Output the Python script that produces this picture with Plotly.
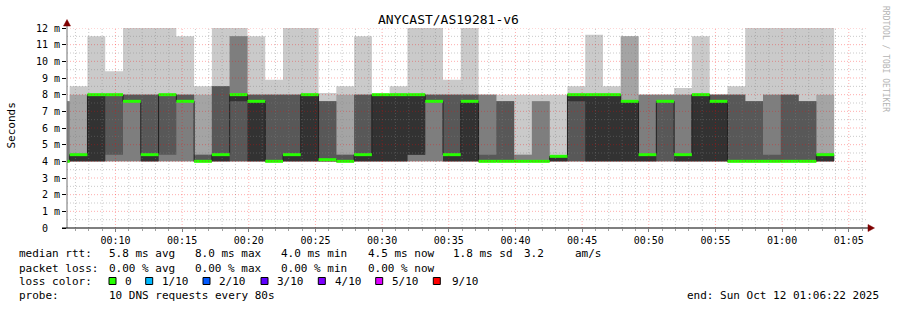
import pandas as pd
import plotly.graph_objects as go

# ---------------- data ----------------
chart_title = "ANYCAST/AS19281-v6"
step_seconds = 80
first_step_start = "2025-10-12 00:05:14"   # start of the (clipped) first step
view_start = "2025-10-12 00:06:22"
view_end = "2025-10-12 01:06:22"

# sorted DNS response times (ms) per 80 s step: ping1 = fastest ... ping10 = slowest
ping1 = [4.0, 4.0, 4.0, 4.0, 4.0, 4.0, 4.0, 4.0, 4.0, 4.0, 4.0,
         4.0, 4.0, 4.0, 4.0, 4.0, 4.0, 4.0, 4.0, 4.0, 4.0, 4.0,
         4.0, 4.0, 4.0, 4.0, 4.0, 4.0, 4.0, 4.0, 4.0, 4.0, 4.0,
         4.0, 4.0, 4.0, 4.0, 4.0, 4.0, 4.0, 4.0, 4.0, 4.0, 4.0]
ping2 = [4.0, 4.0, 4.0, 4.0, 4.0, 4.0, 4.0, 4.0, 4.0, 4.0, 4.0,
         4.0, 4.0, 4.0, 4.0, 4.0, 4.0, 4.0, 4.0, 4.0, 4.0, 4.0,
         4.0, 4.0, 4.0, 4.0, 4.0, 4.0, 4.0, 4.0, 4.0, 4.0, 4.0,
         4.0, 4.0, 4.0, 4.0, 4.0, 4.0, 4.0, 4.0, 4.0, 4.0, 4.0]
ping3 = [4.0, 4.0, 4.0, 4.0, 4.0, 4.0, 4.0, 4.0, 4.0, 4.0, 4.0,
         4.0, 4.0, 4.0, 4.0, 4.0, 4.0, 4.0, 4.0, 4.0, 4.0, 4.0,
         4.0, 4.0, 4.0, 4.0, 4.0, 4.0, 4.0, 4.0, 4.0, 4.0, 4.0,
         4.0, 4.0, 4.0, 4.0, 4.0, 4.0, 4.0, 4.0, 4.0, 4.0, 4.0]
ping4 = [4.0, 4.0, 4.0, 4.4, 7.6, 4.0, 4.4, 7.6, 4.0, 4.0, 4.0,
         4.0, 4.0, 4.0, 4.0, 4.0, 4.0, 4.0, 4.0, 4.0, 4.4, 7.6,
         4.0, 4.0, 4.0, 4.0, 4.0, 4.0, 4.0, 4.0, 4.0, 4.0, 4.0,
         4.0, 4.0, 4.0, 4.0, 4.0, 4.0, 4.0, 4.0, 4.0, 4.0, 4.0]
ping5 = [4.0, 4.0, 4.0, 8.0, 7.6, 4.0, 8.0, 7.6, 4.0, 4.0, 7.6,
         4.0, 4.0, 4.0, 4.0, 4.0, 4.0, 4.0, 4.0, 4.0, 4.4, 7.6,
         4.0, 4.0, 4.0, 4.0, 4.0, 4.0, 4.0, 7.6, 4.0, 4.0, 4.0,
         4.0, 7.6, 4.0, 4.0, 4.0, 4.0, 4.0, 4.0, 4.0, 4.0, 4.0]
ping6 = [4.0, 4.4, 8.0, 8.0, 7.6, 4.4, 8.0, 7.6, 4.0, 4.4, 8.0,
         7.6, 4.0, 4.4, 8.0, 4.1, 4.0, 4.4, 8.0, 8.0, 8.0, 7.6,
         4.4, 7.6, 4.0, 4.0, 4.0, 4.0, 4.3, 8.0, 8.0, 8.0, 7.6,
         4.4, 7.6, 4.4, 8.0, 7.6, 4.0, 4.0, 4.0, 4.0, 4.0, 4.4]
ping7 = [4.0, 4.4, 8.0, 8.0, 8.0, 8.0, 8.0, 8.0, 4.4, 8.5, 8.0,
         8.0, 8.0, 8.0, 8.0, 7.6, 4.4, 8.0, 8.0, 8.0, 8.0, 8.0,
         8.0, 8.0, 4.4, 7.6, 4.0, 4.0, 4.3, 8.0, 8.0, 8.0, 7.6,
         4.4, 7.6, 4.4, 8.0, 8.0, 8.0, 7.6, 4.4, 8.0, 7.6, 4.4]
ping8 = [7.6, 4.4, 8.0, 8.0, 8.0, 8.0, 8.0, 8.0, 4.4, 8.5, 11.5,
         8.0, 8.0, 8.0, 8.0, 7.6, 4.4, 8.0, 8.0, 8.0, 8.0, 8.0,
         8.0, 8.0, 8.0, 7.6, 4.4, 7.6, 4.3, 8.0, 8.0, 8.0, 7.6,
         8.0, 8.0, 8.0, 8.0, 8.0, 8.0, 7.6, 8.0, 8.0, 7.6, 4.4]
ping9 = [7.6, 8.0, 8.0, 8.0, 8.0, 8.0, 8.0, 8.0, 8.0, 8.5, 11.5,
         8.0, 8.0, 8.0, 8.0, 7.6, 8.0, 8.0, 8.0, 8.0, 8.0, 8.0,
         8.0, 8.0, 8.0, 7.6, 4.4, 7.6, 4.3, 8.0, 8.0, 8.0, 11.5,
         8.0, 8.0, 8.0, 8.0, 8.0, 8.0, 7.6, 8.0, 8.0, 7.6, 8.0]
ping10 = [7.6, 8.5, 11.5, 9.4, 12.0, 12.0, 12.0, 11.5, 8.5, 12.0, 12.0,
          11.5, 8.9, 12.0, 12.0, 8.1, 8.5, 11.5, 8.0, 8.5, 12.0, 12.0,
          8.9, 12.0, 8.0, 8.0, 8.0, 8.0, 8.0, 8.5, 11.6, 8.5, 11.5,
          8.0, 8.0, 8.4, 11.5, 8.0, 8.5, 12.0, 12.0, 12.0, 12.0, 12.0]
median_rtt = [4.0, 4.4, 8.0, 8.0, 7.6, 4.4, 8.0, 7.6, 4.0, 4.4, 8.0,
              7.6, 4.0, 4.4, 8.0, 4.1, 4.0, 4.4, 8.0, 8.0, 8.0, 7.6,
              4.4, 7.6, 4.0, 4.0, 4.0, 4.0, 4.3, 8.0, 8.0, 8.0, 7.6,
              4.4, 7.6, 4.4, 8.0, 7.6, 4.0, 4.0, 4.0, 4.0, 4.0, 4.4]

y_tick_values = [0, 1, 2, 3, 4, 5, 6, 7, 8, 9, 10, 11, 12]
y_tick_labels = ["0\u00a0\u00a0", "1 m", "2 m", "3 m", "4 m", "5 m", "6 m",
                 "7 m", "8 m", "9 m", "10 m", "11 m", "12 m"]

stats_rtt = ["median rtt:", "5.8 ms avg", "8.0 ms max", "4.0 ms min",
             "4.5 ms now", "1.8 ms sd", "3.2", "am/s"]
stats_loss = ["packet loss:", "0.00 % avg", "0.00 % max", "0.00 % min", "0.00 % now"]
loss_labels = ["0", "1/10", "2/10", "3/10", "4/10", "5/10", "9/10"]
loss_colors = ["#26ff00", "#00b8ff", "#0059ff", "#5e00ff", "#7e00ff", "#dd00ff", "#ff0000"]
probe_text = "10 DNS requests every 80s"
end_text = "end: Sun Oct 12 01:06:22 2025"

smoke_greys = ["#cacaca", "#a4a4a4", "#7e7e7e", "#585858", "#323232"]

# ---------------- layout helpers (pixel -> paper) ----------------
L, R, T, B = 67, 30, 28, 82
W, H = 897, 310
PW, PH = W - L - R, H - T - B


def px_x(px):
    return (px - L) / PW


def px_y(py):
    return (T + PH - py) / PH


n = len(median_rtt)
edges = pd.date_range(first_step_start, periods=n + 1, freq=f"{step_seconds}s")
xs = [e.strftime("%Y-%m-%d %H:%M:%S") for e in edges]


def stepy(v):
    return list(v) + [v[-1]]


fig = go.Figure()

pings = [ping1, ping2, ping3, ping4, ping5, ping6, ping7, ping8, ping9, ping10]
for i in range(5):
    lo, hi = pings[i], pings[9 - i]
    fig.add_trace(go.Scatter(x=xs, y=stepy(lo), mode="lines",
                             line=dict(width=0, shape="hv"),
                             showlegend=False, hoverinfo="skip"))
    fig.add_trace(go.Scatter(x=xs, y=stepy(hi), mode="lines",
                             line=dict(width=0, shape="hv"),
                             fill="tonexty", fillcolor=smoke_greys[i],
                             showlegend=False, hoverinfo="skip"))

# thin median connector line
fig.add_trace(go.Scatter(x=xs, y=stepy(median_rtt), mode="lines",
                         line=dict(width=1, shape="hv", color="#202020"),
                         showlegend=False, hoverinfo="skip"))

# green median bars (loss 0)
gx, gy = [], []
for k in range(n):
    gx += [xs[k], xs[k + 1], None]
    gy += [median_rtt[k], median_rtt[k], None]
fig.add_trace(go.Scatter(x=gx, y=gy, mode="lines",
                         line=dict(width=3, color=loss_colors[0]),
                         showlegend=False, hoverinfo="skip"))

shapes = []
minor_col = "rgba(128,128,128,0.42)"
major_col = "rgba(255,0,0,0.32)"
dash = "1px,2px"

# vertical grid (every minute; red every 5 minutes)
t = pd.Timestamp("2025-10-12 00:07:00")
tend = pd.Timestamp(view_end)
while t <= tend:
    col = major_col if t.minute % 5 == 0 else minor_col
    shapes.append(dict(type="line", xref="x", yref="paper",
                       x0=t.strftime("%Y-%m-%d %H:%M:%S"), x1=t.strftime("%Y-%m-%d %H:%M:%S"),
                       y0=0, y1=1, layer="above", line=dict(color=col, width=1, dash=dash)))
    t += pd.Timedelta(minutes=1)

# horizontal grid (every 0.5 ms; red at whole ms)
for j in range(1, 25):
    v = j * 0.5
    col = major_col if j % 2 == 0 else minor_col
    shapes.append(dict(type="line", xref="paper", yref="y", x0=0, x1=1, y0=v, y1=v,
                       layer="above", line=dict(color=col, width=1, dash=dash)))

# axis lines and arrows
shapes.append(dict(type="line", xref="paper", yref="paper", x0=px_x(67), x1=px_x(67),
                   y0=px_y(228), y1=px_y(22), layer="above",
                   line=dict(color="#707070", width=1)))
shapes.append(dict(type="line", xref="paper", yref="paper", x0=px_x(62), x1=px_x(869),
                   y0=px_y(228), y1=px_y(228), layer="above",
                   line=dict(color="#000000", width=1)))
up = f"M {px_x(63.5)},{px_y(26)} L {px_x(70.5)},{px_y(26)} L {px_x(67)},{px_y(19.5)} Z"
rt = f"M {px_x(868)},{px_y(224.5)} L {px_x(868)},{px_y(231.5)} L {px_x(874.5)},{px_y(228)} Z"
for p in (up, rt):
    shapes.append(dict(type="path", xref="paper", yref="paper", path=p, layer="above",
                       fillcolor="#7f0000", line=dict(color="#7f0000", width=0.5)))

# loss colour boxes
box_x = [109, 145.7, 203, 261, 318.3, 375.7, 433.3]
for bx, c in zip(box_x, loss_colors):
    shapes.append(dict(type="rect", xref="paper", yref="paper",
                       x0=px_x(bx), x1=px_x(bx + 7), y0=px_y(284.5), y1=px_y(277.5),
                       fillcolor=c, line=dict(color="#000000", width=1)))

MONO = "DejaVu Sans Mono"
ann = []


def text(s, x, y, size=11, anchor="left", color="#000000", angle=0):
    ann.append(dict(text=s, xref="paper", yref="paper", x=px_x(x), y=px_y(y),
                    xanchor=anchor, yanchor="middle", showarrow=False, textangle=angle,
                    font=dict(family=MONO, size=size, color=color)))


text(chart_title, 448, 19, size=13, anchor="center")
text("Seconds", 10.5, 126, size=11, anchor="center", angle=-90)
text("RRDTOOL / TOBI OETIKER", 886, 59, size=8, anchor="center", color="#b4b4b4", angle=90)

rtt_x = [16.7, 107.3, 193.3, 279.3, 365.7, 450.7, 521.7, 573.3]
for s, x in zip(stats_rtt, rtt_x):
    text(s, x, 254)
loss_x = [16.7, 107.3, 193.3, 279.3, 365.7]
for s, x in zip(stats_loss, loss_x):
    text(s, x, 268)
text("loss color:", 16.7, 281)
lab_x = [123.3, 160, 217.3, 275.3, 332.7, 390, 450]
for s, x in zip(loss_labels, lab_x):
    text(s, x, 281)
text("probe:", 16.7, 295)
text(probe_text, 107.3, 295)
text(end_text, 880.5, 295, anchor="right")

fig.update_layout(
    width=W, height=H, margin=dict(l=L, r=R, t=T, b=B),
    paper_bgcolor="#ffffff", plot_bgcolor="#ffffff",
    shapes=shapes, annotations=ann, showlegend=False,
    xaxis=dict(type="date", range=[view_start, view_end], showgrid=False, zeroline=False,
               showline=False, tick0="2025-10-12 00:00:00", dtick=300000,
               tickformat="%H:%M", ticks="outside", ticklen=3, tickcolor="#808080",
               tickfont=dict(family=MONO, size=10, color="#000000"),
               minor=dict(dtick=60000, ticks="outside", ticklen=2, tickcolor="#a0a0a0",
                          showgrid=False)),
    yaxis=dict(range=[0, 12], tickvals=y_tick_values, ticktext=y_tick_labels,
               showgrid=False, zeroline=False, showline=False,
               ticks="outside", ticklen=4, tickcolor="#000000",
               tickfont=dict(family=MONO, size=10, color="#000000")),
)

fig.write_html("out.html")
